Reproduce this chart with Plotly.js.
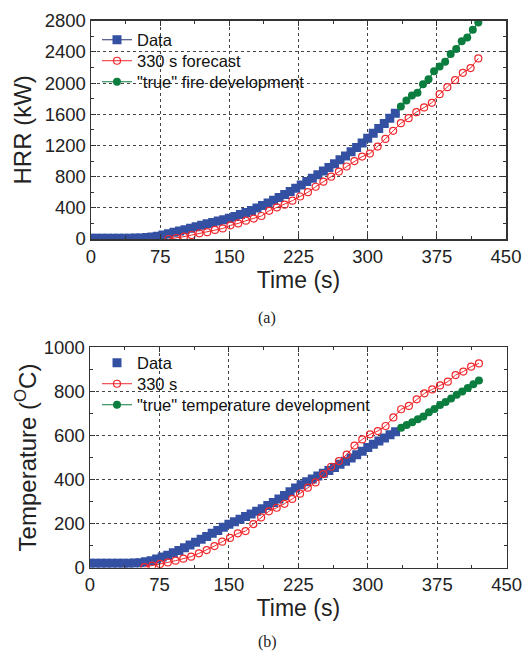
<!DOCTYPE html>
<html>
<head>
<meta charset="utf-8">
<script src="https://cdn.plot.ly/plotly-3.0.1.min.js"></script>
<style>html,body{margin:0;padding:0;background:#fff;}#chart{width:525px;height:651px;}</style>
</head>
<body>
<div id="chart"></div>
<script>
// ---------- (a) Heat release rate ----------
const timeData = [0,6,12,18,24,30,36,42,48,54,60,66,72,78,84,90,96,102,108,114,120,126,132,138,144,150,156,162,168,174,180,186,192,198,204,210,216,222,228,234,240,246,252,258,264,270,276,282,288,294,300,306,312,318,324,330];
const hrrData = [10,10,10,10,10,10,10,11,12,14,18,25,35,50,67,85,103,120,138,158,176,194,212,230,248,265,290,315,340,367,397,430,463,497,533,570,610,650,693,736,780,825,871,918,966,1015,1066,1120,1175,1232,1293,1355,1418,1482,1548,1614];

const timeForecast = [84,92.4,100.8,109.2,117.6,126,134.4,142.8,151.2,159.6,168,176.4,184.8,193.2,201.6,210,218.4,226.8,235.2,243.6,252,260.4,268.8,277.2,285.6,294,302.4,310.8,319.2,327.6,336,344.4,352.8,361.2,369.6,378,386.4,394.8,403.2,411.6,420];
const hrrForecast = [0,13,30,51,73,88,116,135,175,200,235,262,295,362,405,440,492,545,600,670,735,800,865,930,1000,1057,1096,1186,1284,1387,1485,1550,1627,1687,1747,1858,1948,2038,2132,2192,2316];

const timeTrue = [336,342,348,354,360,366,372,378,384,390,396,402,408,414,420];
const hrrTrue = [1700,1777,1841,1875,1986,2050,2153,2213,2273,2372,2436,2538,2586,2684,2778];

// ---------- (b) Temperature ----------
const tempData = [20,20,20,20,20,20,20,20,21,23,27,32,39,48,57,68,78,90,103,116,129,142,156,169,183,197,208,220,232,244,256,268,282,296,312,328,345,362,376,390,403,416,428,441,455,469,483,498,513,528,545,560,575,589,603,617];

const timeForecastT = [58.8,67.2,75.6,84,92.4,100.8,109.2,117.6,126,134.4,142.8,151.2,159.6,168,176.4,184.8,193.2,201.6,210,218.4,226.8,235.2,243.6,252,260.4,268.8,277.2,285.6,294,302.4,310.8,319.2,327.6,336,344.4,352.8,361.2,369.6,378,386.4,394.8,403.2,411.6,420];
const tempForecast = [3,9,17,24,32,41,50,65,80,98,118,135,156,166,198,228,256,272,290,312,336,363,387,425,458,484,513,554,582,605,620,643,682,719,734,764,791,809,827,844,874,890,912,927];

const tempTrue = [635,648,660,673,686,705,720,738,752,768,785,800,815,832,849];

const xTicks = [0,75,150,225,300,375,450];
const hrrTicks = [0,400,800,1200,1600,2000,2400,2800];
const tempTicks = [0,200,400,600,800,1000];

// ---------- styling ----------
const BLUE = '#3450a3';
const BLUE_LINE = '#24336e';
const RED = '#f0282d';
const GREEN = '#0b7d3e';
const FONT = 'Liberation Sans, Arial, Helvetica, sans-serif';
const W = 525, H = 651;

const traces = [
  {x: timeData, y: hrrData, name: 'Data', mode: 'lines+markers', xaxis: 'x', yaxis: 'y', legend: 'legend',
   line: {color: BLUE_LINE, width: 1.2}, marker: {symbol: 'square', size: 9, color: BLUE}},
  {x: timeForecast, y: hrrForecast, name: '330 s forecast', mode: 'lines+markers', xaxis: 'x', yaxis: 'y', legend: 'legend2',
   line: {color: RED, width: 1}, marker: {symbol: 'circle-open', size: 7, color: RED, line: {width: 1.2, color: RED}}},
  {x: timeTrue, y: hrrTrue, name: '"true" fire development', mode: 'lines+markers', xaxis: 'x', yaxis: 'y', legend: 'legend3',
   line: {color: GREEN, width: 1.2}, marker: {symbol: 'circle', size: 8, color: GREEN}},

  {x: timeData, y: tempData, name: 'Data', mode: 'markers', xaxis: 'x2', yaxis: 'y2', legend: 'legend4',
   marker: {symbol: 'square', size: 9, color: BLUE}},
  {x: timeForecastT, y: tempForecast, name: '330 s', mode: 'lines+markers', xaxis: 'x2', yaxis: 'y2', legend: 'legend5',
   line: {color: RED, width: 1}, marker: {symbol: 'circle-open', size: 7, color: RED, line: {width: 1.2, color: RED}}},
  {x: timeTrue, y: tempTrue, name: '"true" temperature development', mode: 'lines+markers', xaxis: 'x2', yaxis: 'y2', legend: 'legend6',
   line: {color: GREEN, width: 1.2}, marker: {symbol: 'circle', size: 8, color: GREEN}}
];

function xAxis(domain, anchor) {
  return {
    domain: domain, anchor: anchor, range: [0, 450], tickvals: xTicks, ticktext: xTicks.map(String),
    ticks: 'inside', ticklen: 5, tickwidth: 1, tickcolor: '#333',
    showline: true, linecolor: '#333', linewidth: 1.5, mirror: 'ticks',
    showgrid: true, gridcolor: '#444', griddash: 'dot', gridwidth: 1, zeroline: false,
    minor: {ticks: 'inside', ticklen: 3, dtick: 37.5, tick0: 0, tickcolor: '#333', showgrid: false},
    tickfont: {family: FONT, size: 18.5, color: '#222'},
    title: {text: 'Time (s)', font: {family: FONT, size: 23, color: '#222'}, standoff: 4},
    automargin: false
  };
}
function yAxis(domain, anchor, range, ticks, title, standoff) {
  return {
    domain: domain, anchor: anchor, range: range, tickvals: ticks, ticktext: ticks.map(String),
    ticks: 'inside', ticklen: 5, tickwidth: 1, tickcolor: '#333',
    showline: true, linecolor: '#333', linewidth: 1.5, mirror: 'ticks',
    showgrid: true, gridcolor: '#444', griddash: 'dot', gridwidth: 1, zeroline: false,
    minor: {ticks: 'inside', ticklen: 3, dtick: (ticks[1] - ticks[0]) / 2, tick0: 0, tickcolor: '#333', showgrid: false},
    tickfont: {family: FONT, size: 18.5, color: '#222'},
    title: {text: title, font: {family: FONT, size: 24, color: '#222'}, standoff: standoff},
    automargin: false
  };
}

function legendAt(yCenterPx) {
  return {
    x: 97 / W, y: 1 - yCenterPx / H, xanchor: 'left', yanchor: 'middle',
    bgcolor: 'rgba(0,0,0,0)', borderwidth: 0,
    font: {family: FONT, size: 16.5, color: '#111'}, tracegroupgap: 0
  };
}

const layout = {
  width: W, height: H,
  margin: {l: 0, r: 0, t: 0, b: 0},
  paper_bgcolor: '#fff', plot_bgcolor: '#fff',
  showlegend: true,
  xaxis: xAxis([91 / W, 506 / W], 'y'),
  yaxis: yAxis([1 - 239 / H, 1 - 20.7 / H], 'x', [0, 2800], hrrTicks, 'HRR (kW)', 6),
  xaxis2: xAxis([90 / W, 506.7 / W], 'y2'),
  yaxis2: yAxis([1 - 567.7 / H, 1 - 347.3 / H], 'x2', [0, 1000], tempTicks, 'Temperature (<sup>O</sup>C)', 0),
  legend: legendAt(40),
  legend2: legendAt(61),
  legend3: legendAt(82),
  legend4: legendAt(363),
  legend5: legendAt(384),
  legend6: legendAt(405),
  annotations: [
    {text: '(a)', xref: 'paper', yref: 'paper', x: 267 / W, y: 1 - 318 / H, xanchor: 'center', yanchor: 'middle', showarrow: false,
     font: {family: 'Liberation Serif, Times New Roman, serif', size: 16, color: '#222'}},
    {text: '(b)', xref: 'paper', yref: 'paper', x: 267 / W, y: 1 - 642 / H, xanchor: 'center', yanchor: 'middle', showarrow: false,
     font: {family: 'Liberation Serif, Times New Roman, serif', size: 16, color: '#222'}}
  ]
};

Plotly.newPlot('chart', traces, layout, {staticPlot: true, displayModeBar: false});
</script>
</body>
</html>
